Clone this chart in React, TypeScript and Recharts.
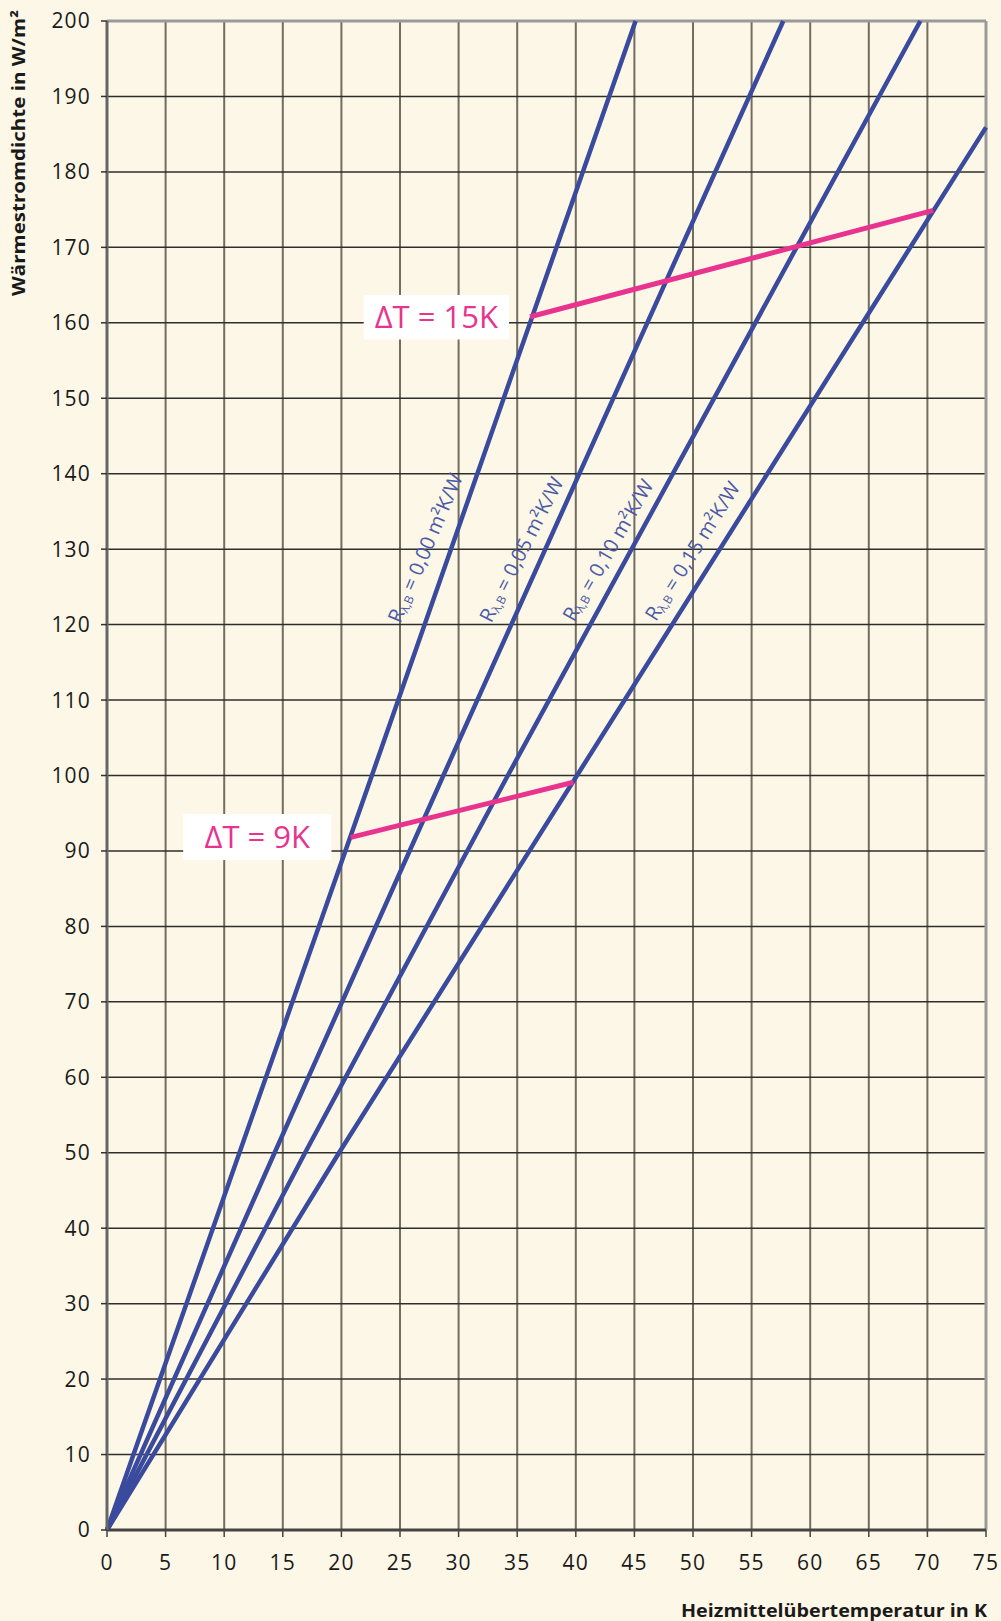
import React from 'react';
import {
  CartesianGrid,
  Customized,
  Line,
  LineChart,
  ReferenceArea,
  ReferenceDot,
  ReferenceLine,
  XAxis,
  YAxis,
} from 'recharts';

// tick labels
const xTicks = [0, 5, 10, 15, 20, 25, 30, 35, 40, 45, 50, 55, 60, 65, 70, 75];
const yTicks = [0, 10, 20, 30, 40, 50, 60, 70, 80, 90, 100, 110, 120, 130, 140, 150, 160, 170, 180, 190, 200];

// heat flux density (q, W/m²) over heating medium overtemperature (t, K)
const r000 = [
  { t: 0, q: 0 },
  { t: 11.3, q: 50 },
  { t: 22.6, q: 100 },
  { t: 45.1, q: 200 },
];
const r005 = [
  { t: 0, q: 0 },
  { t: 14.3, q: 50 },
  { t: 28.7, q: 100 },
  { t: 57.7, q: 200 },
];
const r010 = [
  { t: 0, q: 0 },
  { t: 16.9, q: 50 },
  { t: 34.2, q: 100 },
  { t: 69.4, q: 200 },
];
const r015 = [
  { t: 0, q: 0 },
  { t: 19.8, q: 50 },
  { t: 40.1, q: 100 },
  { t: 75, q: 185.9 },
];

// spread lines
const dT9 = [
  { t: 20.8, q: 91.8 },
  { t: 39.8, q: 99.1 },
];
const dT15 = [
  { t: 36.1, q: 160.8 },
  { t: 70.5, q: 174.9 },
];

const seriesLabels = ['0,00', '0,05', '0,10', '0,15'];

const font = '"Open Sans", "Noto Sans", sans-serif';
const blue = '#3a4b9e';
const pink = '#e8348f';
const bg = '#fdf7e7';

function RLabel({ cx, cy, angle, value }: any) {
  return (
    <text
      x={cx}
      y={cy}
      transform={`rotate(${angle} ${cx} ${cy})`}
      textAnchor="middle"
      dominantBaseline="central"
      fill="#4b5aa8"
      fontSize={20}
      fontFamily={font}
    >
      R
      <tspan fontSize={12} dy={5}>λ,B</tspan>
      <tspan dy={-5}>{` = ${value} m²K/W`}</tspan>
    </text>
  );
}

function Titles() {
  return (
    <g fontFamily={font} fontWeight="bold" fill="#1a1a1a" fontSize={18}>
      <text
        x={25}
        y={153}
        transform="rotate(-90 25 153)"
        textAnchor="middle"
        textLength={286}
        lengthAdjust="spacingAndGlyphs"
      >
        Wärmestromdichte in W/m²
      </text>
      <text x={987} y={1617} textAnchor="end" textLength={306} lengthAdjust="spacingAndGlyphs">
        Heizmittelübertemperatur in K
      </text>
    </g>
  );
}

export default function App() {
  const tickStyle = { fill: '#1a1a1a', fontSize: 21, fontFamily: font, letterSpacing: 1.2 };
  const boxLabel = { fill: pink, fontSize: 31, fontFamily: font, position: 'center' as const };
  return (
    <div style={{ position: 'absolute', left: 0, top: 0, width: 1001, height: 1621, background: bg }}>
      <LineChart width={1001} height={1621} margin={{ top: 21, right: 15, bottom: 0, left: 0 }}>
        <CartesianGrid horizontal={false} stroke="#726d60" strokeWidth={2} />
        <CartesianGrid vertical={false} stroke="#2e2e2a" strokeWidth={1.5} />
        <XAxis
          dataKey="t"
          type="number"
          domain={[0, 75]}
          ticks={xTicks}
          interval={0}
          height={91}
          tickSize={7}
          tickMargin={18}
          tick={tickStyle}
          axisLine={{ stroke: '#444', strokeWidth: 3 }}
          tickLine={{ stroke: '#444', strokeWidth: 1.5 }}
        />
        <YAxis
          dataKey="q"
          type="number"
          domain={[0, 200]}
          ticks={yTicks}
          interval={0}
          width={107}
          tickSize={6}
          tickMargin={10}
          tick={tickStyle}
          axisLine={{ stroke: '#666', strokeWidth: 3 }}
          tickLine={{ stroke: '#333', strokeWidth: 1.5 }}
        />
        <ReferenceLine y={200} stroke="#9a9a9a" strokeWidth={3} />
        <ReferenceLine x={75} stroke="#9a9a9a" strokeWidth={3} />

        <ReferenceArea
          x1={21.9}
          x2={34.3}
          y1={157.8}
          y2={163.7}
          fill="#ffffff"
          fillOpacity={1}
          stroke="none"
          label={{ value: 'ΔT = 15K', ...boxLabel }}
        />
        <ReferenceArea
          x1={6.5}
          x2={19.15}
          y1={88.8}
          y2={94.9}
          fill="#ffffff"
          fillOpacity={1}
          stroke="none"
          label={{ value: 'ΔT = 9K', ...boxLabel }}
        />

        <Line data={r000} dataKey="q" type="linear" stroke={blue} strokeWidth={4.5} dot={false} isAnimationActive={false} />
        <Line data={r005} dataKey="q" type="linear" stroke={blue} strokeWidth={4.5} dot={false} isAnimationActive={false} />
        <Line data={r010} dataKey="q" type="linear" stroke={blue} strokeWidth={4.5} dot={false} isAnimationActive={false} />
        <Line data={r015} dataKey="q" type="linear" stroke={blue} strokeWidth={4.5} dot={false} isAnimationActive={false} />
        <Line data={dT9} dataKey="q" type="linear" stroke={pink} strokeWidth={5} dot={false} isAnimationActive={false} />
        <Line data={dT15} dataKey="q" type="linear" stroke={pink} strokeWidth={5} dot={false} isAnimationActive={false} />

        <ReferenceDot x={27.1} y={130.2} r={0} shape={(p: any) => <RLabel cx={p.cx} cy={p.cy} angle={-67} value={seriesLabels[0]} />} />
        <ReferenceDot x={35.3} y={130} r={0} shape={(p: any) => <RLabel cx={p.cx} cy={p.cy} angle={-63} value={seriesLabels[1]} />} />
        <ReferenceDot x={42.7} y={129.9} r={0} shape={(p: any) => <RLabel cx={p.cx} cy={p.cy} angle={-60} value={seriesLabels[2]} />} />
        <ReferenceDot x={49.9} y={129.8} r={0} shape={(p: any) => <RLabel cx={p.cx} cy={p.cy} angle={-58} value={seriesLabels[3]} />} />

        <Customized component={Titles} />
      </LineChart>
    </div>
  );
}
